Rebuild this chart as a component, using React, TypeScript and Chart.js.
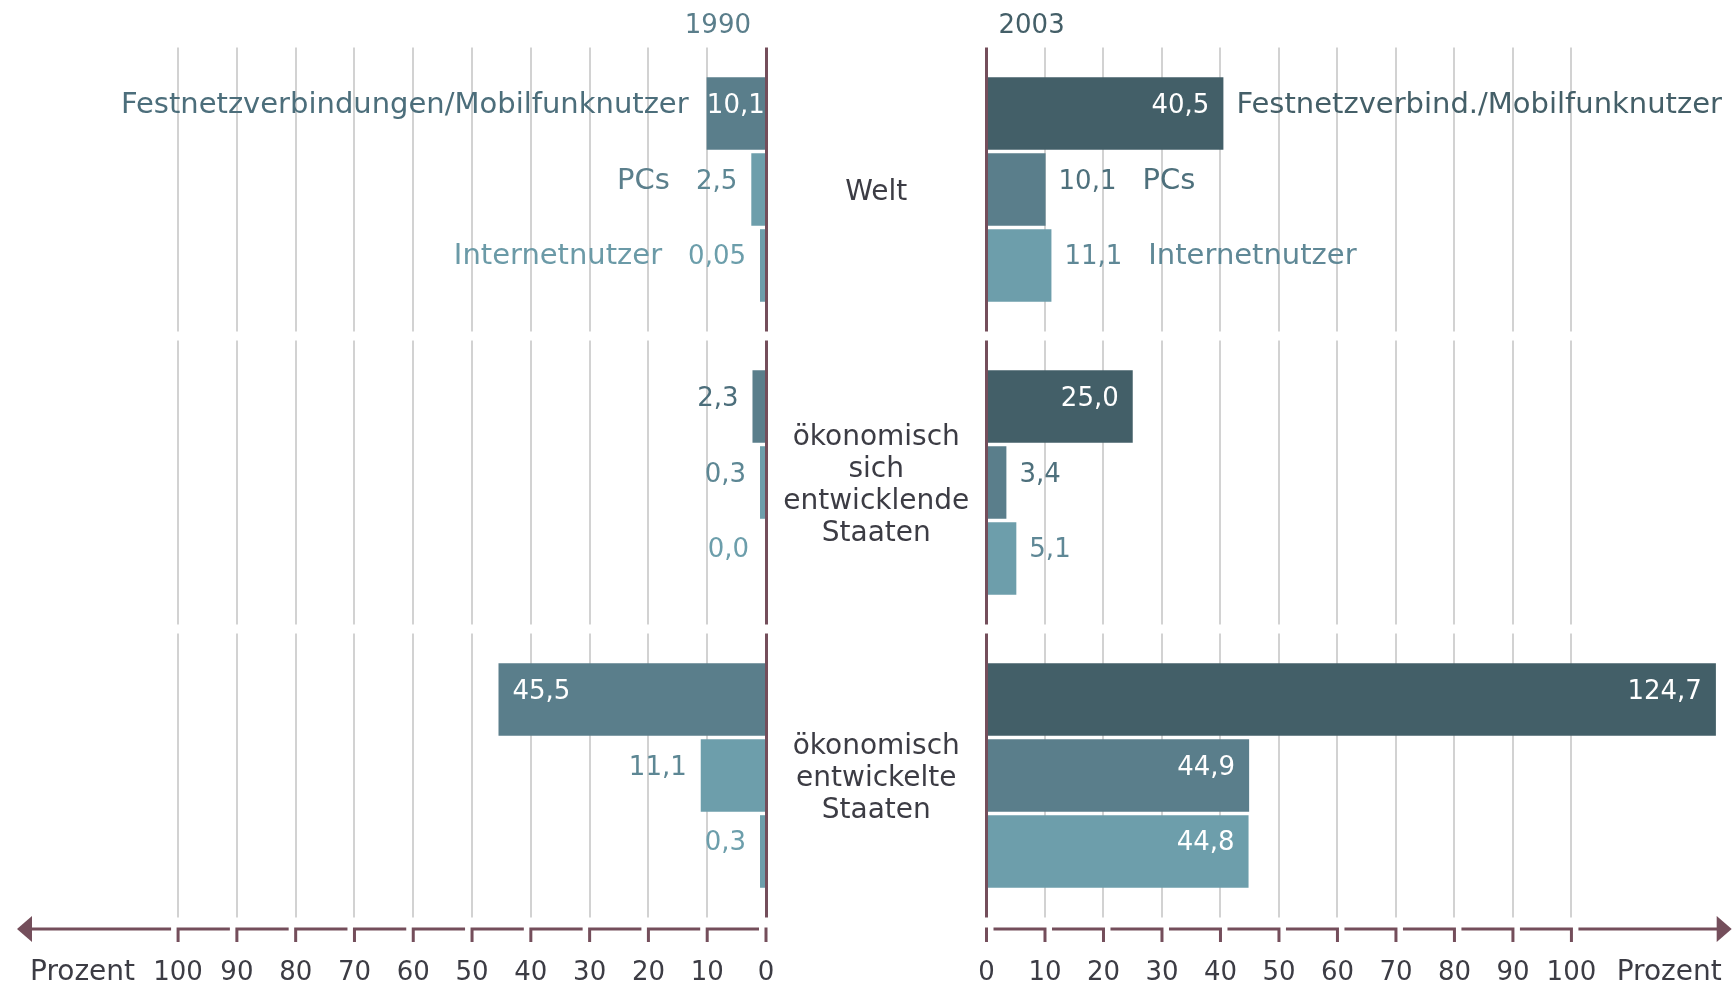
import React, { useEffect, useRef } from "react";
import { Chart, registerables } from "chart.js";

Chart.register(...registerables);

// ---------- data ----------
const categories: string[][] = [
  ["Welt"],
  ["ökonomisch", "sich", "entwicklende", "Staaten"],
  ["ökonomisch", "entwickelte", "Staaten"],
];
const seriesNames1990 = ["Festnetzverbindungen/Mobilfunknutzer", "PCs", "Internetnutzer"];
const seriesNames2003 = ["Festnetzverbind./Mobilfunknutzer", "PCs", "Internetnutzer"];

const festnetz1990 = [10.1, 2.3, 45.5];
const pcs1990 = [2.5, 0.3, 11.1];
const internet1990 = [0.05, 0.0, 0.3];

const festnetz2003 = [40.5, 25.0, 124.7];
const pcs2003 = [10.1, 3.4, 44.9];
const internet2003 = [11.1, 5.1, 44.8];

const tickValues = [0, 10, 20, 30, 40, 50, 60, 70, 80, 90, 100];
const axisTitle = "Prozent";
const yearLabels = ["1990", "2003"];

// ---------- layout / style ----------
const W = 1733;
const H = 983;
const AXIS_MAX = 127.4;
const LEFT_ZERO = 766;
const RIGHT_ZERO = 986.5;
const LEFT_TIP = 17;
const RIGHT_TIP = 1731.7;
const PLOT_TOP = 43;
const PLOT_BOTTOM = 922;

const FONT = "'DejaVu Sans', 'Liberation Sans', sans-serif";
const MAROON = "#744e5b";
const INK = "#3c3c44";
const GRID = "#d2d2d2";

const barColors = {
  left: ["#5a7e8b", "#6d9eab", "#6d9eab"],
  right: ["#435f68", "#5a7e8b", "#6d9eab"],
};
const valueColors = {
  left: ["#4c6e7b", "#5d8794", "#6c9eab"],
  right: ["#445f68", "#4e707c", "#5f8896"],
};
const nameColors = {
  left: ["#4c6e7b", "#5b7f8c", "#6b9aa7"],
  right: ["#445f68", "#4e707c", "#5f8896"],
};

type Side = "left" | "right";

const fmt = (v: number) => {
  let s = v.toFixed(1);
  if (Math.abs(Number(s) - v) > 1e-9) s = v.toFixed(2);
  return s.replace(".", ",");
};

function makePlugin(side: Side) {
  return {
    id: "deco-" + side,
    afterDraw(chart: any) {
      const ctx: CanvasRenderingContext2D = chart.ctx;
      const xs = chart.scales.x;
      const ys = chart.scales.y;
      const ca = chart.chartArea;
      const sgn = side === "left" ? -1 : 1;
      const p = (v: number) => xs.getPixelForValue(v);
      ctx.save();

      // zero line (value axis base)
      ctx.fillStyle = MAROON;
      ctx.fillRect(Math.round(p(0) - 1.5), ca.top, 3, ca.bottom - ca.top);

      // white gaps between the category sections
      const n = categories.length;
      const half = (ys.getPixelForValue(1) - ys.getPixelForValue(0)) / 2;
      ctx.fillStyle = "#ffffff";
      for (let i = 0; i <= n; i++) {
        const yb = ys.getPixelForValue(0) - half + i * 2 * half;
        ctx.fillRect(ca.left - 4, yb - 4.5, ca.right - ca.left + 8, 9);
      }

      // bottom arrow axis
      const yA = ca.bottom + 7;
      ctx.strokeStyle = MAROON;
      ctx.fillStyle = MAROON;
      ctx.lineWidth = 3;
      ctx.lineCap = "butt";
      ctx.beginPath();
      for (let k = 1; k < tickValues.length; k++) {
        const outer = p(tickValues[k]);
        const inner = p(tickValues[k - 1]);
        ctx.moveTo(outer, yA);
        ctx.lineTo(inner + sgn * 7, yA);
      }
      const tip = side === "left" ? ca.left : ca.right;
      ctx.moveTo(p(tickValues[tickValues.length - 1]) + sgn * 7, yA);
      ctx.lineTo(tip - sgn * 10, yA);
      for (const v of tickValues) {
        ctx.moveTo(p(v), yA - 1.5);
        ctx.lineTo(p(v), yA + 13);
      }
      ctx.stroke();
      ctx.beginPath();
      ctx.moveTo(tip, yA);
      ctx.lineTo(tip - sgn * 15, yA - 13);
      ctx.lineTo(tip - sgn * 15, yA + 13);
      ctx.closePath();
      ctx.fill();

      // tick labels
      ctx.fillStyle = INK;
      ctx.font = `26px ${FONT}`;
      ctx.textBaseline = "alphabetic";
      ctx.textAlign = "center";
      for (const v of tickValues) ctx.fillText(String(v), p(v), yA + 51);
      ctx.font = `28px ${FONT}`;
      if (side === "left") {
        ctx.textAlign = "left";
        ctx.fillText(axisTitle, ca.left + 13, yA + 51);
      } else {
        ctx.textAlign = "right";
        ctx.fillText(axisTitle, ca.right - 10, yA + 51);
      }

      // year header
      ctx.font = `26px ${FONT}`;
      if (side === "left") {
        ctx.fillStyle = "#5a7e8b";
        ctx.textAlign = "right";
        ctx.fillText(yearLabels[0], LEFT_ZERO - 15, 33);
      } else {
        ctx.fillStyle = "#445f68";
        ctx.textAlign = "left";
        ctx.fillText(yearLabels[1], RIGHT_ZERO + 12, 33);
      }

      // bar value labels + series names
      const names = side === "left" ? seriesNames1990 : seriesNames2003;
      chart.data.datasets.forEach((ds: any, di: number) => {
        const meta = chart.getDatasetMeta(di);
        meta.data.forEach((el: any, i: number) => {
          const v = ds.data[i] as number;
          const { x, y, base } = el.getProps(["x", "y", "base"], true);
          const endPx = sgn < 0 ? Math.min(x, base) : Math.max(x, base);
          const txt = fmt(v);
          const inside = v >= 20 || (di === 0 && v >= 10);
          ctx.font = `26px ${FONT}`;
          const tw = ctx.measureText(txt).width;
          const yb = y - 1;
          let outerEdge: number;
          let gap: number;
          if (inside) {
            const barLen = Math.abs(x - base);
            const pad = Math.min(14, (barLen - tw) / 2);
            ctx.fillStyle = "#ffffff";
            if (sgn > 0) {
              ctx.textAlign = "right";
              ctx.fillText(txt, endPx - pad, yb);
            } else {
              ctx.textAlign = "left";
              ctx.fillText(txt, endPx + pad, yb);
            }
            outerEdge = endPx;
            gap = side === "left" ? 18 : 13;
          } else {
            ctx.fillStyle = valueColors[side][di];
            if (sgn > 0) {
              ctx.textAlign = "left";
              ctx.fillText(txt, endPx + 13, yb);
              outerEdge = endPx + 13 + tw;
            } else {
              ctx.textAlign = "right";
              ctx.fillText(txt, endPx - 14, yb);
              outerEdge = endPx - 14 - tw;
            }
            gap = 26;
          }
          if (i === 0) {
            ctx.font = `29px ${FONT}`;
            ctx.fillStyle = nameColors[side][di];
            ctx.textAlign = sgn > 0 ? "left" : "right";
            ctx.fillText(names[di], outerEdge + sgn * gap, yb);
          }
        });
      });

      // category labels in the middle
      if (side === "left") {
        const mid = (LEFT_ZERO + RIGHT_ZERO) / 2;
        ctx.font = `28px ${FONT}`;
        ctx.fillStyle = INK;
        ctx.textAlign = "center";
        const lh = 32;
        const capH = 20;
        categories.forEach((lines, i) => {
          const cy = ys.getPixelForValue(i);
          const first = cy - ((lines.length - 1) / 2) * lh + capH / 2;
          lines.forEach((ln, j) => ctx.fillText(ln, mid, first + j * lh));
        });
      }
      ctx.restore();
    },
  };
}

function buildConfig(side: Side): any {
  const values = side === "left" ? [festnetz1990, pcs1990, internet1990] : [festnetz2003, pcs2003, internet2003];
  const names = side === "left" ? seriesNames1990 : seriesNames2003;
  const colors = barColors[side];
  const padding =
    side === "left"
      ? { left: LEFT_TIP, right: W - LEFT_ZERO, top: PLOT_TOP, bottom: H - PLOT_BOTTOM }
      : { left: RIGHT_ZERO, right: W - RIGHT_TIP, top: PLOT_TOP, bottom: H - PLOT_BOTTOM };
  return {
    type: "bar",
    data: {
      labels: categories,
      datasets: values.map((data, i) => ({
        label: names[i],
        data,
        backgroundColor: (c: any) => (c.raw === 0 ? "rgba(0,0,0,0)" : colors[i]),
        borderWidth: 0,
        minBarLength: 6,
        categoryPercentage: 0.778,
        barPercentage: 0.955,
      })),
    },
    options: {
      indexAxis: "y",
      responsive: false,
      animation: false,
      devicePixelRatio: 1,
      layout: { padding },
      plugins: {
        legend: { display: false },
        tooltip: { enabled: false },
        title: { display: false },
      },
      scales: {
        x: {
          type: "linear",
          min: 0,
          max: AXIS_MAX,
          reverse: side === "left",
          afterBuildTicks: (scale: any) => {
            scale.ticks = tickValues.map((v) => ({ value: v }));
          },
          ticks: { display: false },
          border: { display: false },
          grid: {
            drawTicks: false,
            color: (c: any) => (c.tick && c.tick.value === 0 ? "rgba(0,0,0,0)" : GRID),
            lineWidth: 2,
          },
        },
        y: { display: false, offset: true },
      },
    },
    plugins: [makePlugin(side)],
  };
}

export default function App() {
  const leftRef = useRef<HTMLCanvasElement>(null);
  const rightRef = useRef<HTMLCanvasElement>(null);
  useEffect(() => {
    const l = new Chart(leftRef.current as HTMLCanvasElement, buildConfig("left"));
    const r = new Chart(rightRef.current as HTMLCanvasElement, buildConfig("right"));
    return () => {
      l.destroy();
      r.destroy();
    };
  }, []);
  const cs: React.CSSProperties = { position: "absolute", left: 0, top: 0, width: W, height: H };
  return (
    <div style={{ position: "fixed", left: 0, top: 0, width: W, height: H, background: "#ffffff", overflow: "hidden" }}>
      <canvas ref={leftRef} width={W} height={H} style={cs} />
      <canvas ref={rightRef} width={W} height={H} style={cs} />
    </div>
  );
}
